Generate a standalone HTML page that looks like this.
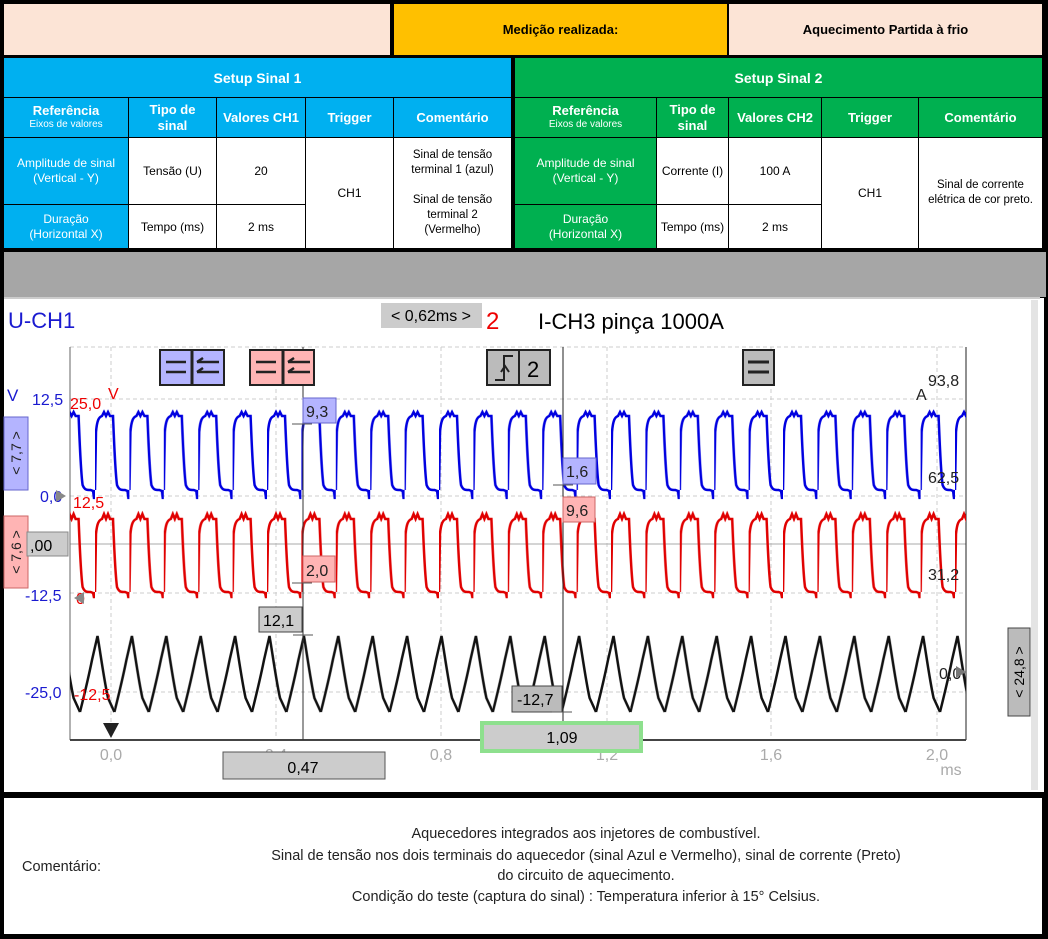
<!DOCTYPE html>
<html><head><meta charset="utf-8"><style>
body{margin:0;width:1048px;height:939px;background:#000;position:relative;overflow:hidden;font-family:"Liberation Sans",Arial,sans-serif}
.a{position:absolute;box-sizing:border-box;display:flex;align-items:center;justify-content:center;text-align:center}
.w{color:#fff;font-weight:bold;font-size:13px}
.c{background:#fff;font-size:12px;color:#000}
.bl{background:#00b0f0}.gr{background:#00b050}
</style></head><body>
<div class="a" style="left:4px;top:4px;width:386px;height:51px;background:#fce4d6"></div>
<div class="a" style="left:394px;top:4px;width:333px;height:51px;background:#ffc000;font-weight:bold;font-size:13px">Medição realizada:</div>
<div class="a" style="left:729px;top:4px;width:313px;height:51px;background:#fce4d6;font-weight:bold;font-size:13px">Aquecimento Partida à frio</div>

<div class="a bl w" style="left:4px;top:58px;width:507px;height:39px;font-size:14px">Setup Sinal 1</div>
<div class="a gr w" style="left:515px;top:58px;width:527px;height:39px;font-size:14px">Setup Sinal 2</div>

<div class="a bl w" style="left:4px;top:98px;width:124px;height:39px;flex-direction:column;line-height:14px">Referência<span style="font-size:10px;font-weight:normal">Eixos de valores</span></div>
<div class="a bl w" style="left:129px;top:98px;width:87px;height:39px;line-height:16px">Tipo de<br>sinal</div>
<div class="a bl w" style="left:217px;top:98px;width:88px;height:39px">Valores CH1</div>
<div class="a bl w" style="left:306px;top:98px;width:87px;height:39px">Trigger</div>
<div class="a bl w" style="left:394px;top:98px;width:117px;height:39px">Comentário</div>
<div class="a bl" style="left:4px;top:138px;width:124px;height:66px;color:#fff;font-size:12px;line-height:15px">Amplitude de sinal<br>(Vertical - Y)</div>
<div class="a bl" style="left:4px;top:205px;width:124px;height:43px;color:#fff;font-size:12px;line-height:15px">Duração<br>(Horizontal X)</div>
<div class="a c" style="left:129px;top:138px;width:87px;height:66px">Tensão (U)</div>
<div class="a c" style="left:217px;top:138px;width:88px;height:66px">20</div>
<div class="a c" style="left:129px;top:205px;width:87px;height:43px">Tempo (ms)</div>
<div class="a c" style="left:217px;top:205px;width:88px;height:43px">2 ms</div>
<div class="a c" style="left:306px;top:138px;width:87px;height:110px">CH1</div>
<div class="a c" style="left:394px;top:138px;width:117px;height:110px;font-size:11.5px;line-height:15px">Sinal de tensão<br>terminal 1 (azul)<br><br>Sinal de tensão<br>terminal 2<br>(Vermelho)</div>
<div class="a gr w" style="left:515px;top:98px;width:141px;height:39px;flex-direction:column;line-height:14px">Referência<span style="font-size:10px;font-weight:normal">Eixos de valores</span></div>
<div class="a gr w" style="left:657px;top:98px;width:71px;height:39px;line-height:16px">Tipo de<br>sinal</div>
<div class="a gr w" style="left:729px;top:98px;width:92px;height:39px">Valores CH2</div>
<div class="a gr w" style="left:822px;top:98px;width:96px;height:39px">Trigger</div>
<div class="a gr w" style="left:919px;top:98px;width:123px;height:39px">Comentário</div>
<div class="a gr" style="left:515px;top:138px;width:141px;height:66px;color:#fff;font-size:12px;line-height:15px">Amplitude de sinal<br>(Vertical - Y)</div>
<div class="a gr" style="left:515px;top:205px;width:141px;height:43px;color:#fff;font-size:12px;line-height:15px">Duração<br>(Horizontal X)</div>
<div class="a c" style="left:657px;top:138px;width:71px;height:66px">Corrente (I)</div>
<div class="a c" style="left:729px;top:138px;width:92px;height:66px">100 A</div>
<div class="a c" style="left:657px;top:205px;width:71px;height:43px">Tempo (ms)</div>
<div class="a c" style="left:729px;top:205px;width:92px;height:43px">2 ms</div>
<div class="a c" style="left:822px;top:138px;width:96px;height:110px">CH1</div>
<div class="a c" style="left:919px;top:138px;width:123px;height:110px;font-size:11.5px;line-height:15px">Sinal de corrente<br>elétrica de cor preto.</div>

<div class="a" style="left:4px;top:252px;width:1042px;height:45px;background:#a6a6a6"></div>

<svg style="position:absolute;left:0;top:0" width="1048" height="939" font-family="Liberation Sans,Arial,sans-serif">
<rect x="4" y="298" width="1040" height="494" fill="#fff"/>
<rect x="1031" y="300" width="7" height="490" fill="#e4e4e4"/>
<line x1="4" y1="298" x2="1040" y2="298" stroke="#ccc" stroke-width="2"/>
<defs>
<pattern id="pb" patternUnits="userSpaceOnUse" x="95" y="0" width="34.4" height="939">
<path d="M0,490 L1,432 C2,420 4,417 7,416 L9,412 L11,416 L13,412 L15,416 L18,416 C19,440 20,470 22,485 C24,490 26,490 30,490 L32.5,491 L33.5,499 L34.4,490" fill="none" stroke="#0000e0" stroke-width="2.5"/></pattern>
<pattern id="pr" patternUnits="userSpaceOnUse" x="95" y="0" width="34.4" height="939">
<path d="M0,592 L1,534 C2,523 4,520 7,519 L9,514 L11,519 L13,514 L15,519 L18,519 C19,543 20,572 22,587 C24,592 26,592 30,592 L32.5,593 L33.5,598 L34.4,592" fill="none" stroke="#e00000" stroke-width="2.5"/></pattern>
<pattern id="pk" patternUnits="userSpaceOnUse" x="80" y="0" width="34.4" height="939">
<path d="M0,712 C3,700 8,680 12,660 L17.5,636 C20,650 24,680 28,698 L34.4,712" fill="none" stroke="#111" stroke-width="2.5"/></pattern>
</defs>
<g stroke="#ccc" stroke-dasharray="4,3" stroke-width="1">
<line x1="70" y1="347" x2="966" y2="347"/><line x1="70" y1="399" x2="966" y2="399"/>
<line x1="70" y1="496" x2="966" y2="496"/><line x1="70" y1="593" x2="966" y2="593"/>
<line x1="70" y1="692" x2="966" y2="692"/>
<line x1="111" y1="347" x2="111" y2="740"/><line x1="276" y1="347" x2="276" y2="740"/>
<line x1="441" y1="347" x2="441" y2="740"/><line x1="607" y1="347" x2="607" y2="740"/>
<line x1="771" y1="347" x2="771" y2="740"/><line x1="937" y1="347" x2="937" y2="740"/>
</g>
<line x1="70" y1="544" x2="966" y2="544" stroke="#aaa"/>
<line x1="70" y1="347" x2="70" y2="740" stroke="#666"/>
<line x1="966" y1="347" x2="966" y2="740" stroke="#222"/>
<line x1="70" y1="740" x2="966" y2="740" stroke="#444" stroke-width="2"/>
<rect x="70" y="400" width="896" height="102" fill="url(#pb)"/>
<rect x="70" y="508" width="896" height="92" fill="url(#pr)"/>
<rect x="70" y="628" width="896" height="90" fill="url(#pk)"/>
<line x1="303" y1="347" x2="303" y2="740" stroke="#333"/>
<line x1="563" y1="347" x2="563" y2="740" stroke="#222"/>
<rect x="160" y="350" width="64" height="35" fill="#b4b4ff" stroke="#222" stroke-width="2"/>
<line x1="192" y1="350" x2="192" y2="385" stroke="#222" stroke-width="3"/>
<path d="M166,362h20M166,372h20M197,362h22M197,372h22M197,362l6,-4M197,372l6,-4" stroke="#222" stroke-width="2.5" fill="none"/>
<rect x="250" y="350" width="64" height="35" fill="#ffb4b4" stroke="#222" stroke-width="2"/>
<line x1="283" y1="350" x2="283" y2="385" stroke="#222" stroke-width="3"/>
<path d="M256,362h20M256,372h20M288,362h22M288,372h22M288,362l6,-4M288,372l6,-4" stroke="#222" stroke-width="2.5" fill="none"/>
<rect x="487" y="350" width="63" height="35" fill="#bbb" stroke="#222" stroke-width="2"/>
<line x1="519" y1="350" x2="519" y2="385" stroke="#222" stroke-width="2"/>
<path d="M495,380h9v-24h9M509,372l-4,-6l-4,6" stroke="#222" stroke-width="2" fill="none"/>
<text x="527" y="377" font-size="22">2</text>
<rect x="743" y="350" width="31" height="35" fill="#bbb" stroke="#222" stroke-width="2"/>
<path d="M748,362h21M748,372h21" stroke="#222" stroke-width="3"/>
<text x="8" y="328" font-size="22" fill="#1a1ad0">U-CH1</text>
<rect x="381" y="303" width="101" height="25" fill="#ccc"/>
<text x="431" y="321" font-size="16" text-anchor="middle">&lt; 0,62ms &gt;</text>
<text x="486" y="329" font-size="24" fill="#e00">2</text>
<text x="538" y="329" font-size="22">I-CH3 pinça 1000A</text>
<text x="7" y="401" font-size="17" fill="#1a1ad0">V</text>
<text x="32" y="405" font-size="16" fill="#1a1ad0">12,5</text>
<text x="70" y="409" font-size="16" fill="#e00">25,0</text>
<text x="108" y="399" font-size="16" fill="#e00">V</text>
<rect x="4" y="417" width="24" height="73" fill="#b4b4ff" stroke="#6666cc"/>
<text transform="translate(21,453) rotate(-90)" font-size="14" text-anchor="middle" fill="#222">&lt; 7,7 &gt;</text>
<text x="40" y="502" font-size="16" fill="#1a1ad0">0,0</text>
<text x="73" y="508" font-size="16" fill="#e00">12,5</text>
<path d="M56,490l10,6l-10,6z" fill="#888"/>
<rect x="4" y="516" width="24" height="72" fill="#ffb4b4" stroke="#cc6666"/>
<text transform="translate(21,552) rotate(-90)" font-size="14" text-anchor="middle" fill="#222">&lt; 7,6 &gt;</text>
<rect x="27" y="532" width="41" height="24" fill="#ccc" stroke="#888"/>
<text x="30" y="551" font-size="16">,00</text>
<text x="25" y="601" font-size="16" fill="#1a1ad0">-12,5</text>
<text x="76" y="604" font-size="16" fill="#e00">0</text>
<path d="M84,592l-10,6l10,6z" fill="#888"/>
<text x="25" y="698" font-size="16" fill="#1a1ad0">-25,0</text>
<text x="74" y="700" font-size="16" fill="#e00">-12,5</text>
<path d="M103,723h16l-8,15z" fill="#222"/>
<rect x="303" y="398" width="33" height="25" fill="#b4b4ff" stroke="#6666cc"/><text x="306" y="417" font-size="16" fill="#222">9,3</text>
<line x1="292" y1="424" x2="312" y2="424" stroke="#555"/>
<rect x="303" y="556" width="32" height="26" fill="#ffb4b4" stroke="#cc6666"/><text x="306" y="576" font-size="16" fill="#222">2,0</text>
<line x1="292" y1="583" x2="312" y2="583" stroke="#555"/>
<rect x="259" y="607" width="43" height="25" fill="#ccc" stroke="#444"/><text x="263" y="626" font-size="16">12,1</text>
<line x1="293" y1="635" x2="313" y2="635" stroke="#555"/>
<rect x="563" y="458" width="33" height="26" fill="#b4b4ff" stroke="#6666cc"/><text x="566" y="477" font-size="16" fill="#222">1,6</text>
<rect x="563" y="497" width="32" height="25" fill="#ffb4b4" stroke="#cc6666"/><text x="566" y="516" font-size="16" fill="#222">9,6</text>
<line x1="553" y1="485" x2="573" y2="485" stroke="#555"/>
<rect x="512" y="686" width="50" height="26" fill="#bbb" stroke="#444"/><text x="517" y="705" font-size="16">-12,7</text>
<line x1="552" y1="712" x2="572" y2="712" stroke="#555"/>
<text x="928" y="386" font-size="16" fill="#222">93,8</text>
<text x="916" y="400" font-size="16" fill="#222">A</text>
<text x="928" y="483" font-size="16" fill="#222">62,5</text>
<text x="928" y="580" font-size="16" fill="#222">31,2</text>
<text x="939" y="679" font-size="16" fill="#222">0,0</text>
<path d="M956,666l10,6l-10,6z" fill="#777"/>
<rect x="1008" y="628" width="22" height="88" fill="#bbb" stroke="#444"/>
<text transform="translate(1024,672) rotate(-90)" font-size="14" text-anchor="middle">&lt; 24,8 &gt;</text>
<g font-size="16" fill="#aaa" text-anchor="middle">
<text x="111" y="760">0,0</text><text x="276" y="760">0,4</text><text x="441" y="760">0,8</text>
<text x="607" y="760">1,2</text><text x="771" y="760">1,6</text><text x="937" y="760">2,0</text>
<text x="951" y="775">ms</text></g>
<rect x="223" y="752" width="162" height="27" fill="#ccc" stroke="#555"/>
<text x="303" y="773" font-size="16" text-anchor="middle">0,47</text>
<rect x="482" y="723" width="159" height="28" fill="#ccc" stroke="#8ee08e" stroke-width="4"/>
<text x="562" y="743" font-size="16" text-anchor="middle">1,09</text>
<rect x="4" y="798" width="1038" height="136" fill="#fff"/>
<text x="22" y="871" font-size="14.5" fill="#222">Comentário:</text>
<g font-size="14.5" fill="#222" text-anchor="middle">
<text x="586" y="838">Aquecedores integrados aos injetores de combustível.</text>
<text x="586" y="860">Sinal de tensão nos dois terminais do aquecedor (sinal Azul e Vermelho), sinal de corrente (Preto)</text>
<text x="586" y="880">do circuito de aquecimento.</text>
<text x="586" y="901">Condição do teste (captura do sinal) : Temperatura inferior à 15° Celsius.</text>
</g>
</svg>
</body></html>
